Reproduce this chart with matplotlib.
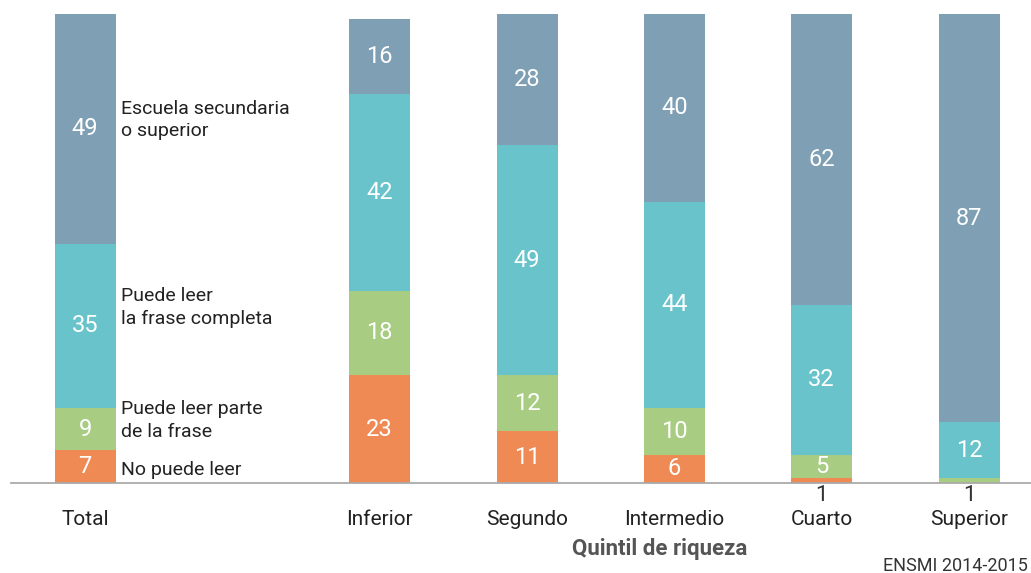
import numpy as np
import matplotlib.pyplot as plt

plt.rcParams['font.family'] = ['Roboto', 'DejaVu Sans']

# datos (porcentajes)
grupos = ["Total", "Inferior", "Segundo", "Intermedio", "Cuarto", "Superior"]
pos = [0, 2, 3, 4, 5, 6]
no_lee = [7, 23, 11, 6, 1, 0]
parte = [9, 18, 12, 10, 5, 1]
completa = [35, 42, 49, 44, 32, 12]
secundaria = [49, 16, 28, 40, 62, 87]

series = [no_lee, parte, completa, secundaria]
colores = ["#EF8A55", "#A8CD82", "#69C3CB", "#7E9FB4"]
nombres = ["No puede leer", "Puede leer parte\nde la frase",
           "Puede leer\nla frase completa", "Escuela secundaria\no superior"]

fig = plt.figure(figsize=(10.31, 5.73), dpi=100)
# eje: 0 -> x=85px, 6 -> x=969px ; y 0 -> 483px, 100 -> 14px
W, H = 1031, 573
u = (969 - 85) / 6
ax = fig.add_axes([0, 90 / H, 1, 469 / H])
ax.set_xlim(-85 / u, (W - 85) / u)
ax.set_ylim(0, 100)
ax.axis('off')

ancho = 61 / u
base = np.zeros(len(pos))
for vals, c in zip(series, colores):
    vals = np.array(vals)
    ax.bar(pos, vals, bottom=base, width=ancho, color=c, clip_on=False)
    for x, b, v in zip(pos, base, vals):
        if v >= 5:
            ax.text(x, b + v / 2, str(v), color="white", fontsize=17,
                    ha="center", va="center")
        elif v > 0:
            ax.text(x, -0.5, str(v), color="#333333", fontsize=16,
                    ha="center", va="top")
    base += vals

# linea base
ax.plot([(11 - 85) / u, (W - 85) / u], [0, 0], color="#aaaaaa", lw=1.3,
        clip_on=False)

# etiquetas de categorias
for x, g in zip(pos, grupos):
    ax.text(x, -5.8, g, ha="center", va="top", fontsize=15, color="#222222")

# etiquetas de la serie (a la derecha de Total)
ys = [2.8, 13.4, 37.5, 77.4]
for yy, n in zip(ys, nombres):
    ax.text(0 + 36 / u, yy, n, ha="left", va="center", fontsize=14,
            color="#222222", linespacing=1.35)

fig.text(660 / W, 1 - 549 / H, "Quintil de riqueza", ha="center", va="center",
         fontsize=16, fontweight="bold", color="#555555")
fig.text(1028 / W, 1 - 566 / H, "ENSMI 2014-2015", ha="right", va="center",
         fontsize=13, color="#333333")

fig.savefig("out.png", dpi=100)
